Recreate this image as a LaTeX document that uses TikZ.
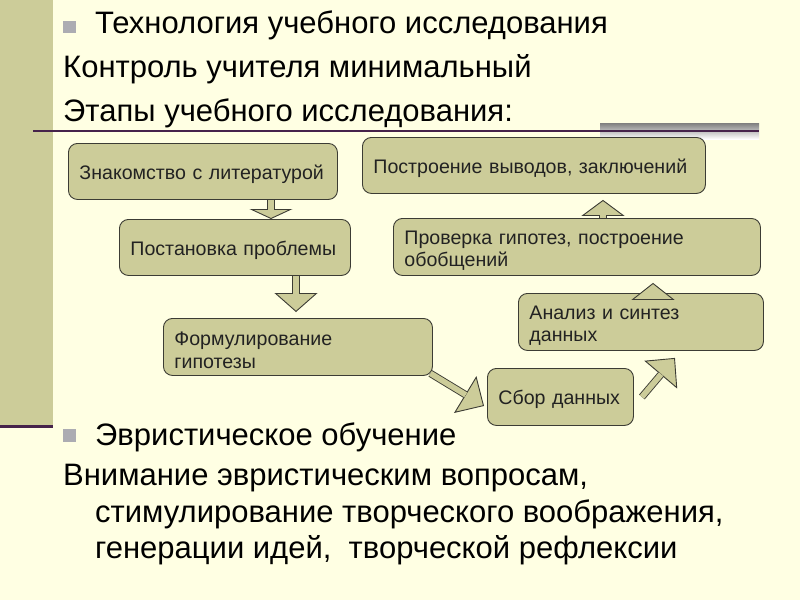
\documentclass[tikz,border=0pt]{standalone}
\usepackage{fontspec}
\setmainfont{Liberation Sans}
\usetikzlibrary{positioning}
\usetikzlibrary{arrows.meta}

\definecolor{khaki}{RGB}{204,204,153}
\definecolor{paper}{RGB}{255,255,227}
\definecolor{rulecol}{RGB}{70,35,75}
\definecolor{shade}{RGB}{170,168,180}
\definecolor{bulletgray}{RGB}{172,172,178}
\definecolor{edge}{RGB}{60,60,52}
\definecolor{inktext}{RGB}{34,34,34}

\tikzset{
	slidetext/.style={anchor=base west, inner sep=0pt, font=\fontsize{31}{36}\selectfont},
	stage/.style={draw=edge, fill=khaki, line width=0.9pt, rounded corners=9pt, anchor=north west, align=left, inner xsep=11pt, inner ysep=0pt, text=inktext, font=\fontsize{19.6}{22.5}\selectfont},
	stageone/.style={stage, text height=16pt, text depth=0pt},
	stagetwo/.style={stage, text height=20.5pt},
	fatarrow/.style={draw=edge, line width=7.4pt, -{Triangle[width=43pt,length=#1pt,line width=0.9pt 0,fill=khaki]}, postaction={draw=khaki, line width=5.6pt, -, shorten >=#1pt-0.6pt}},
	fatarrow/.default=18
}

\begin{document}
\begin{tikzpicture}[x=1pt,y=-1pt]

	\useasboundingbox (0,0) rectangle (800,600);
	% Slide background %
	\fill [paper] (0,0) rectangle (800,600);
	\fill [khaki] (0,0) rectangle (53,425);
	\draw [rulecol, line width=2.5pt] (0,426.5) -- (53,426.5);
	\fill [shade] (600,123) rectangle (759,139);
	\draw [rulecol, line width=2pt] (33,131) -- (759,131);
	% Header text %
	\fill [bulletgray] (63,21) rectangle (76,33);
	\node (title1) [slidetext] at (95,33) {Технология учебного исследования};
	\node (title2) [slidetext] at (63,77) {Контроль учителя минимальный};
	\node (title3) [slidetext] at (63,121) {Этапы учебного исследования:};
	% Stages %
	\node (reading) [stageone, text width=247pt, minimum height=56pt] at (68,143) {Знакомство с литературой};
	\node (problem) [stageone, text width=209pt, minimum height=56pt] at (119,219) {Постановка проблемы};
	\node (hypothesis) [stagetwo, text width=247pt, minimum height=57pt] at (163,318) {Формулирование\\гипотезы};
	\node (gather) [stageone, text width=124pt, minimum height=57pt] at (487,368) {Сбор данных};
	\node (analysis) [stagetwo, text width=223pt, minimum height=57pt] at (518,293) {Анализ и синтез\\данных};
	\node (testing) [stagetwo, text width=345pt, minimum height=57pt] at (393,218) {Проверка гипотез, построение\\обобщений};
	\node (conclusion) [stageone, text width=321pt, minimum height=56pt] at (362,137) {Построение выводов, заключений};
	% Arrows %
	\draw [fatarrow=10] (reading.south -| 271,0) -- (problem.north -| 271,0);
	\draw [fatarrow=19] (problem.south -| 296,0) -- ([yshift=6pt]hypothesis.north -| 296,0);
	\draw [fatarrow=22] ([shift={(-2.5pt,2.5pt)}]hypothesis.south east) -- ([shift={(-3pt,-9pt)}]gather.west);
	\draw [fatarrow=22] ([xshift=8pt]gather.east) -- ([shift={(34pt,-7pt)}]analysis.south);
	\draw [fatarrow=17] (analysis.north -| 653,0) -- ([yshift=-7pt]testing.south -| 653,0);
	\draw [fatarrow=16] (testing.north -| 603,0) -- ([yshift=-6pt]conclusion.south -| 603,0);
	% Heuristic part %
	\fill [bulletgray] (63,429) rectangle (76,442);
	\node (heur0) [slidetext] at (95,445) {Эвристическое обучение};
	\node (heur1) [slidetext] at (63,485) {Внимание эвристическим вопросам,};
	\node (heur2) [slidetext] at (95,522) {стимулирование творческого воображения,};
	\node (heur3) [slidetext] at (95,558) {генерации идей,\ \ творческой рефлексии};
\end{tikzpicture}
\end{document}
